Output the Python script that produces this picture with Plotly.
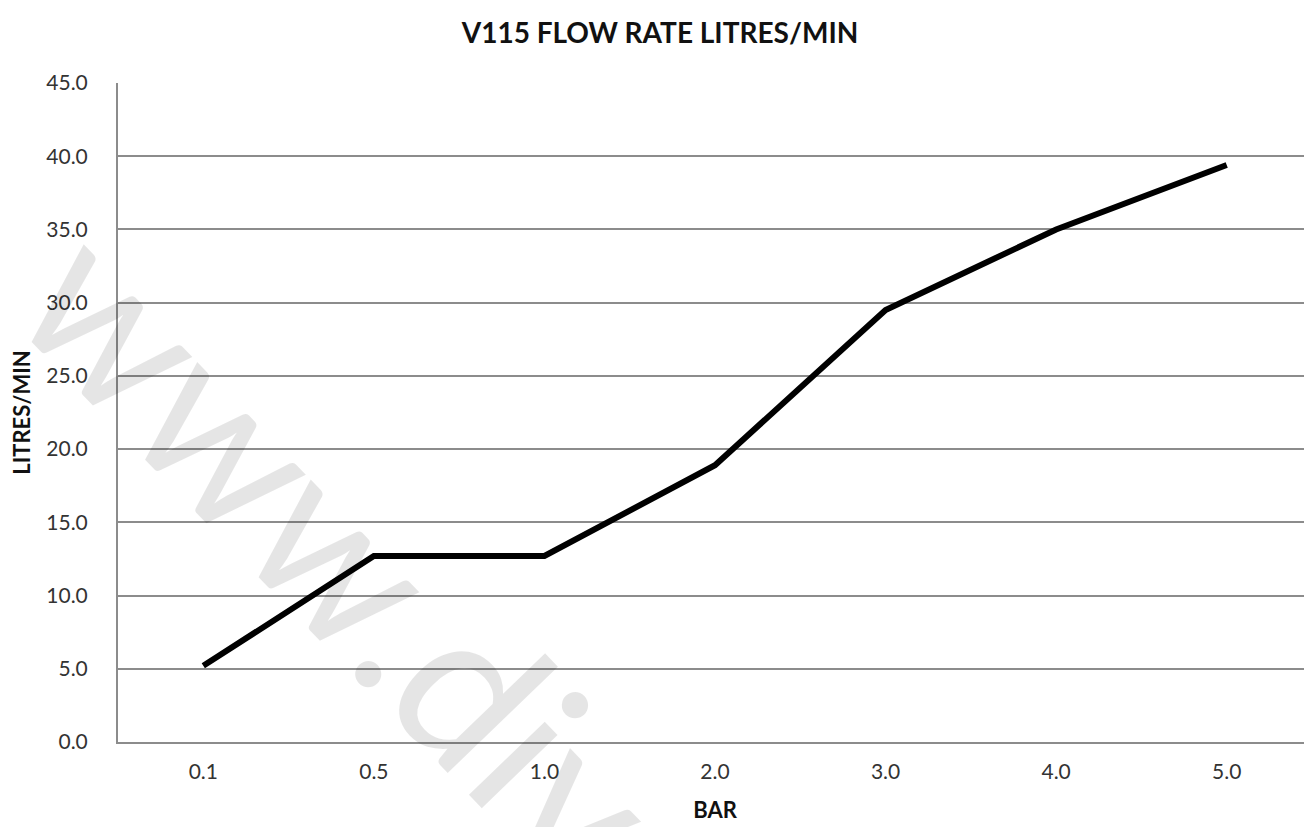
import plotly.graph_objects as go

bar = ["0.1", "0.5", "1.0", "2.0", "3.0", "4.0", "5.0"]
litres_per_min = [5.2, 12.7, 12.7, 18.9, 29.5, 35.0, 39.4]
y_ticks = [0, 5, 10, 15, 20, 25, 30, 35, 40, 45]

FONT = "Lato, 'Open Sans', sans-serif"

fig = go.Figure()
fig.add_trace(go.Scatter(
    x=bar, y=litres_per_min, mode="lines",
    line=dict(color="black", width=6),
    showlegend=False, hoverinfo="x+y",
))

fig.update_layout(
    width=1304, height=819,
    paper_bgcolor="white", plot_bgcolor="white",
    margin=dict(l=110, r=0, t=75, b=85),
    font=dict(family=FONT, color="#222"),
    title=dict(text="<b>V115 FLOW RATE LITRES/MIN</b>", x=0.5, xanchor="center",
               y=0.969, yanchor="middle", font=dict(size=28, color="#111", family=FONT)),
    xaxis=dict(
        type="category", showgrid=False, showline=True, linecolor="#8c8c8c", linewidth=2,
        ticks="", tickfont=dict(size=21, color="#333"), ticklabelstandoff=10,
        title=dict(text="<b>BAR</b>", font=dict(size=22, color="#111"), standoff=20),
        range=[-0.5, 6.5],
    ),
    yaxis=dict(
        range=[0, 45], tickvals=y_ticks, tickformat=".1f",
        showgrid=True, gridcolor="#8c8c8c", gridwidth=2,
        showline=True, linecolor="#8c8c8c", linewidth=2,
        ticks="", tickfont=dict(size=21, color="#333"), ticklabelstandoff=24,
        title=dict(text="<b>LITRES/MIN</b>", font=dict(size=22, color="#111"), standoff=14),
        zeroline=False,
    ),
)

fig.add_annotation(
    text="www.div", xref="paper", yref="paper", x=0.190, y=0.291,
    xanchor="center", yanchor="middle",
    showarrow=False, textangle=46,
    font=dict(size=208, color="rgba(0,0,0,0.1)", family=FONT),
)

fig.write_html("out.html")
